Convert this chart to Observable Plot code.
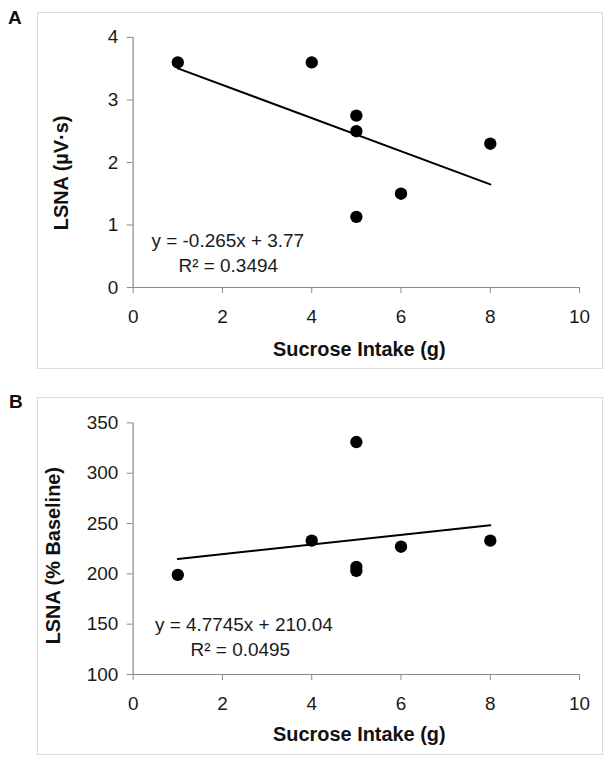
<!DOCTYPE html>
<html>
<head>
<meta charset="utf-8">
<script src="https://cdn.jsdelivr.net/npm/d3@7"></script>
<script src="https://cdn.jsdelivr.net/npm/@observablehq/plot@0.6"></script>
<style>
  html, body { margin: 0; padding: 0; background: #fff; }
  #root { position: relative; width: 614px; height: 765px; background: #fff; font-family: "Liberation Sans", Arial, sans-serif; }
  .panel { position: absolute; left: 37px; width: 566px; box-sizing: border-box; border: 1px solid #dcdcdc; }
  .panel svg { display: block; position: absolute; left: -1px; top: -1px; overflow: visible; }
  .letter { position: absolute; font-weight: bold; font-size: 19px; color: #111; }
</style>
</head>
<body>
<div id="root">
  <div class="letter" style="left:8px; top:7px;">A</div>
  <div class="panel" id="pa" style="top:12px; height:357px;"></div>
  <div class="letter" style="left:9px; top:391px;">B</div>
  <div class="panel" id="pb" style="top:397px; height:358px;"></div>
</div>
<script>
// ---- data ----
const xTicks = [0, 2, 4, 6, 8, 10];
const xLabel = "Sucrose Intake (g)";

const sucroseA = [1, 4, 5, 5, 5, 6, 8];
const lsnaA = [3.6, 3.6, 2.75, 2.5, 1.13, 1.5, 2.3];
const yTicksA = [0, 1, 2, 3, 4];
const yLabelA = "LSNA (\u00b5V\u00b7s)";
const slopeA = -0.265, interceptA = 3.77;
const eqA = "y = -0.265x + 3.77";
const r2A = "R\u00b2 = 0.3494";

const sucroseB = [1, 4, 5, 5, 5, 6, 8];
const lsnaB = [199, 233, 331, 207, 203, 227, 233];
const yTicksB = [100, 150, 200, 250, 300, 350];
const yLabelB = "LSNA (% Baseline)";
const slopeB = 4.7745, interceptB = 210.04;
const eqB = "y = 4.7745x + 210.04";
const r2B = "R\u00b2 = 0.0495";

const fitRange = [1, 8];

function panel(o) {
  const pts = o.xs.map((x, i) => ({x, y: o.ys[i]}));
  const fit = fitRange.map(x => ({x, y: o.slope * x + o.intercept}));
  const y0 = o.yTicks[0], y1 = o.yTicks[o.yTicks.length - 1];
  return Plot.plot({
    width: 566,
    height: o.height,
    marginLeft: 96,
    marginRight: 22,
    marginTop: o.mt,
    marginBottom: o.mb,
    x: {domain: [0, 10]},
    y: {domain: [y0, y1]},
    style: {fontFamily: "'Liberation Sans', Arial, sans-serif", fontSize: "19px", color: "#1a1a1a", background: "transparent", overflow: "visible"},
    marks: [
      Plot.ruleY([y0], {stroke: "#8a8a8a", strokeWidth: 1.2}),
      Plot.ruleX([0], {stroke: "#8a8a8a", strokeWidth: 1.2}),
      Plot.axisX({ticks: xTicks, tickSize: 6, tickPadding: 16, stroke: "#8a8a8a", label: null, fontSize: 19, tickFormat: d3.format("d")}),
      Plot.axisY({ticks: o.yTicks, tickSize: 6, tickPadding: 9, stroke: "#8a8a8a", label: null, fontSize: 19, tickFormat: d3.format("d")}),
      Plot.line(fit, {x: "x", y: "y", stroke: "black", strokeWidth: 2}),
      Plot.dot(pts, {x: "x", y: "y", r: 6.2, fill: "black", stroke: null}),
      Plot.text([{x: o.eqX, y: o.eqY1, t: o.eq}, {x: o.eqX2, y: o.eqY2, t: o.r2}], {x: "x", y: "y", text: "t", fontSize: 19, fill: "#1a1a1a", lineAnchor: "middle", textAnchor: "middle"}),
      Plot.text([xLabel], {frameAnchor: "bottom", dx: 3, dy: o.xtDy, fontWeight: "bold", fontSize: 20, lineAnchor: "middle", textAnchor: "middle", fill: "#111"}),
      Plot.text([o.yLabel], {frameAnchor: "left", rotate: -90, dx: o.ytDx, dy: o.ytDy, fontWeight: "bold", fontSize: 20, lineAnchor: "middle", textAnchor: "middle", fill: "#111"})
    ]
  });
}

document.getElementById("pa").appendChild(panel({
  xs: sucroseA, ys: lsnaA, yTicks: yTicksA, yLabel: yLabelA,
  slope: slopeA, intercept: interceptA, eq: eqA, r2: r2A,
  height: 357, mt: 25, mb: 81,
  eqX: 2.12, eqY1: 0.74, eqX2: 2.13, eqY2: 0.34,
  xtDy: 62, ytDx: -71.5, ytDy: 10.5
}));

document.getElementById("pb").appendChild(panel({
  xs: sucroseB, ys: lsnaB, yTicks: yTicksB, yLabel: yLabelB,
  slope: slopeB, intercept: interceptB, eq: eqB, r2: r2B,
  height: 358, mt: 25.5, mb: 80,
  eqX: 2.48, eqY1: 149.6, eqX2: 2.4, eqY2: 124.8,
  xtDy: 60, ytDx: -79.5, ytDy: 7
}));
</script>
</body>
</html>
